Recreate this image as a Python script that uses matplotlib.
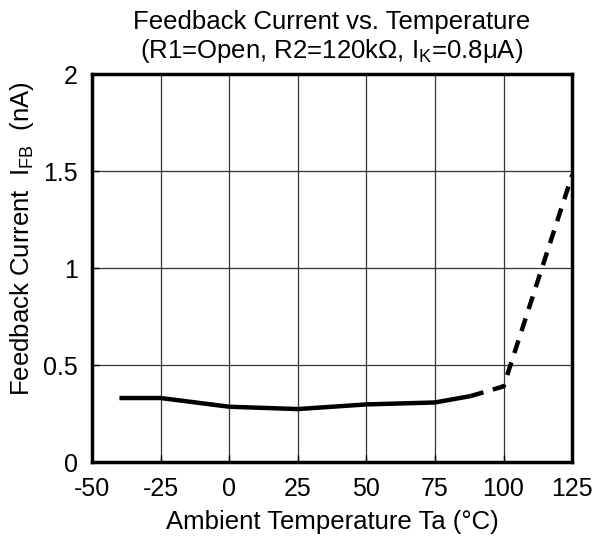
import matplotlib
matplotlib.use("Agg")
import matplotlib.pyplot as plt

plt.rcParams['font.family'] = ['Liberation Sans', 'DejaVu Sans']
plt.rcParams['mathtext.fontset'] = 'custom'
plt.rcParams['mathtext.rm'] = 'Liberation Sans'
plt.rcParams['mathtext.it'] = 'Liberation Sans'
plt.rcParams['axes.unicode_minus'] = False

# measured curve (solid part) and extrapolated part (dashed)
solid_x = [-40, -25, 0, 25, 50, 75, 88]
solid_y = [0.33, 0.33, 0.285, 0.273, 0.297, 0.307, 0.34]
dash_x = [88, 100, 125]
dash_y = [0.34, 0.39, 1.48]

xticks = [-50, -25, 0, 25, 50, 75, 100, 125]
yticks = [0, 0.5, 1, 1.5, 2]
ytick_labels = ['0', '0.5', '1', '1.5', '2']

fig = plt.figure(figsize=(5.95, 5.41), dpi=100)
fig.patch.set_facecolor('w')
ax = fig.add_axes([0.1546, 0.146, 0.807, 0.717])

ax.plot(solid_x, solid_y, color='k', lw=3.2, solid_capstyle='butt')
ax.plot(dash_x, dash_y, color='k', lw=3.2, dashes=(3, 2.2), dash_capstyle='butt')

ax.set_xlim(-50, 125)
ax.set_ylim(0, 2)
ax.set_xticks(xticks)
ax.set_yticks(yticks)
ax.set_yticklabels(ytick_labels)
ax.grid(True, color='#333333', lw=0.9)
ax.tick_params(direction='in', length=5, width=1, labelsize=18)
ax.tick_params(axis='x', pad=11)
ax.tick_params(axis='y', pad=10)
for s in ax.spines.values():
    s.set_linewidth(2.5)

fig.text(0.558, 0.960, 'Feedback Current vs. Temperature', ha='center', va='center', fontsize=18.5)
fig.text(0.558, 0.906, '(R1=Open, R2=120k\u03a9, I$_\\mathregular{K}$=0.8\u03bcA)', ha='center', va='center', fontsize=18.5)
fig.text(0.558, 0.035, 'Ambient Temperature Ta (\u00b0C)', ha='center', va='center', fontsize=18.5)
fig.text(0.037, 0.56, 'Feedback Current  I$_\\mathregular{FB}$  (nA)', ha='center', va='center',
         rotation=90, fontsize=18.5)

fig.savefig('out.png', dpi=100)
